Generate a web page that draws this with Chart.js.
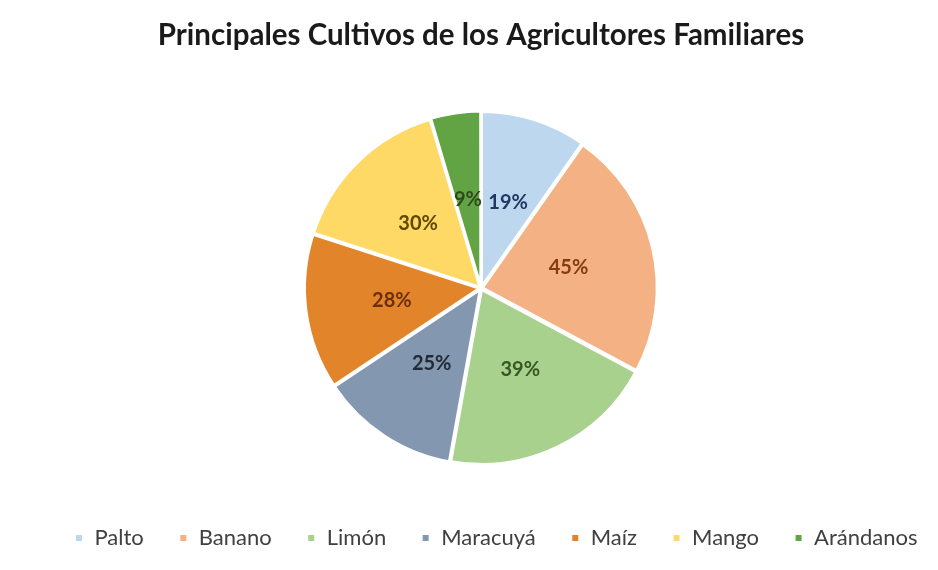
<!DOCTYPE html>
<html>
<head>
<meta charset="utf-8">
<script src="https://cdn.jsdelivr.net/npm/chart.js@4.4.1/dist/chart.umd.min.js"></script>
<style>
html,body{margin:0;padding:0;background:#fff;}
#wrap{width:938px;height:570px;}
</style>
</head>
<body>
<div id="wrap"><canvas id="c" width="938" height="570"></canvas></div>
<script>
const titleText = 'Principales Cultivos de los Agricultores Familiares';
const categories = ['Palto', 'Banano', 'Limón', 'Maracuyá', 'Maíz', 'Mango', 'Arándanos'];
const values = [19, 45, 39, 25, 28, 30, 9];
const valueLabels = ['19%', '45%', '39%', '25%', '28%', '30%', '9%'];
const sliceColors = ['#BDD7EE', '#F4B183', '#A9D18E', '#8497B0', '#E2852A', '#FFD966', '#62A443'];
const labelColors = ['#1F3864', '#843C0C', '#385723', '#222A35', '#6E2E0A', '#5E4800', '#2E4A1C'];

const sliceLabels = {
  id: 'sliceLabels',
  afterDatasetsDraw(chart) {
    const ctx = chart.ctx;
    const meta = chart.getDatasetMeta(0);
    ctx.save();
    ctx.font = 'bold 20px Lato';
    ctx.textAlign = 'center';
    ctx.textBaseline = 'middle';
    meta.data.forEach((arc, i) => {
      const p = arc.tooltipPosition();
      ctx.fillStyle = labelColors[i];
      ctx.fillText(valueLabels[i], p.x, p.y);
    });
    ctx.restore();
  }
};

new Chart(document.getElementById('c'), {
  type: 'pie',
  data: {
    labels: categories,
    datasets: [{
      data: values,
      backgroundColor: sliceColors,
      borderColor: '#ffffff',
      borderWidth: 3,
      offset: 5,
      radius: 175
    }]
  },
  options: {
    responsive: false,
    animation: false,
    layout: { padding: { top: 0, bottom: 11, left: 34, right: -20 } },
    plugins: {
      title: {
        display: true,
        fullSize: false,
        text: titleText,
        color: '#1a1a1a',
        font: { family: 'Lato', size: 29.5, weight: 'bold' },
        padding: { top: 18, bottom: 31 }
      },
      subtitle: {
        display: true,
        position: 'right',
        fullSize: false,
        text: '',
        font: { size: 10, lineHeight: 1.2 },
        padding: { top: 9, bottom: 9, left: 0, right: 0 }
      },
      legend: {
        position: 'bottom',
        fullSize: true,
        labels: {
          color: '#404040',
          font: { family: 'Lato', size: 22 },
          boxWidth: 9,
          boxHeight: 9,
          padding: 35
        }
      },
      tooltip: { enabled: false }
    }
  },
  plugins: [sliceLabels]
});
</script>
</body>
</html>
